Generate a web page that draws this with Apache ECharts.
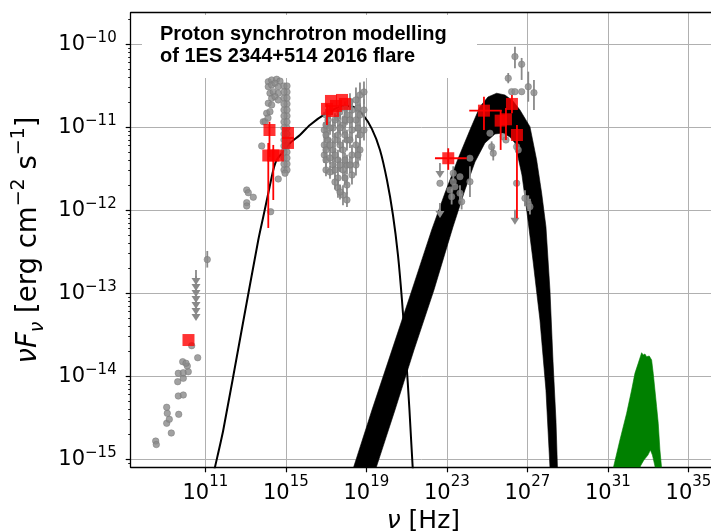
<!DOCTYPE html>
<html>
<head>
<meta charset="utf-8">
<script src="https://cdn.jsdelivr.net/npm/echarts@6/dist/echarts.min.js"></script>
<style>html,body{margin:0;padding:0;background:#fff}#c{width:711px;height:532px}</style>
</head>
<body>
<div id="c"></div>
<script>
// All numbers are log10 exponents: [log nu (Hz), log nuFnu (erg cm^-2 s^-1)]
const xTickExp = [11, 15, 19, 23, 27, 31, 35];
const yTickExp = [-15, -14, -13, -12, -11, -10];

// Archival (grey) data: [logNu, logF, (logF low, logF high)]
const archRadio = [
  [8.532,-14.780],[8.562,-14.822],[9.307,-14.683],[9.078,-14.566],[9.208,-14.518],[9.108,-14.446],
  [9.078,-14.373],[9.675,-14.458],[9.655,-14.237],[9.903,-14.225],[9.625,-14.065],[9.903,-14.024],
  [9.655,-13.964],[9.903,-13.957],[10.151,-13.945],[10.102,-13.876],[9.873,-13.824],[10.037,-13.843],
  [10.618,-13.776],[10.320,-13.631],[11.095,-12.594,-12.69,-12.49]
];
const archOptical = [
  [13.053,-11.755],[13.132,-11.788],[13.380,-11.843],[13.053,-11.908],[13.053,-11.948],[13.798,-11.225],
  [13.877,-10.933],[14.622,-11.623],[14.245,-12.017],
  [14.126,-10.451],[14.294,-10.430],[14.543,-10.422],[14.707,-10.444],[14.126,-10.511],[14.294,-10.490],
  [14.458,-10.470],[14.622,-10.511],[14.210,-10.590],[14.374,-10.571],[14.622,-10.590],[14.294,-10.651],
  [14.458,-10.631],[14.622,-10.671],[14.126,-10.711],[14.294,-10.731],[14.046,-10.831],[14.210,-10.812],
  [13.962,-10.933],[14.111,-10.888],
  [14.905,-10.502],[15.055,-10.575],[14.905,-10.647],[15.055,-10.719],[14.905,-10.792],[15.055,-10.864],
  [14.905,-10.936],[15.055,-11.008],[14.905,-11.081],[15.055,-11.153],[14.905,-11.225],[15.055,-11.298],
  [14.905,-11.370],[15.055,-11.442],[14.905,-11.514],[15.055,-10.502],[14.905,-10.575],[15.055,-10.647],
  [14.905,-10.719],[15.055,-10.792],[14.905,-10.864],[15.055,-10.936],[14.905,-11.008],[15.055,-11.081],
  [14.905,-11.153],[15.055,-11.225],[14.905,-11.298],[15.055,-11.370],[14.905,-11.442],[15.055,-11.514],
  [14.960,-11.554]
];
const archXray = [
  [16.909,-11.033,-11.13,-10.94],[16.909,-11.213,-11.31,-11.12],[16.909,-11.334,-11.43,-11.24],
  [17.091,-10.912,-11.02,-10.80],[17.091,-11.153,-11.27,-11.04],
  [17.340,-11.008,-11.12,-10.90],[17.340,-11.273,-11.39,-11.16],[17.340,-11.454,-11.57,-11.34],
  [17.588,-10.888,-10.99,-10.78],[17.588,-11.093,-11.21,-10.98],[17.588,-11.394,-11.52,-11.27],
  [17.588,-11.611,-11.73,-11.49],[17.588,-11.731,-11.85,-11.62],
  [17.837,-10.972,-11.09,-10.86],[17.837,-11.273,-11.40,-11.15],[17.837,-11.514,-11.64,-11.39],
  [17.837,-11.816,-11.94,-11.70],
  [18.035,-10.852,-10.97,-10.73],[18.035,-11.153,-11.28,-11.03],[18.035,-11.454,-11.57,-11.33],
  [18.035,-11.695,-11.81,-11.58],[18.035,-11.876,-11.96,-11.78],
  [18.284,-10.792,-10.94,-10.65],[18.284,-11.033,-11.17,-10.90],[18.284,-11.334,-11.46,-11.21],
  [18.284,-11.575,-11.69,-11.46],
  [18.482,-10.671,-10.82,-10.52],[18.482,-10.912,-11.05,-10.78],[18.482,-11.213,-11.34,-11.09],
  [18.482,-11.454,-11.58,-11.33],
  [18.681,-10.611,-10.76,-10.46],[18.681,-10.852,-11.00,-10.71],[18.681,-11.093,-11.22,-10.97],
  [18.681,-11.273,-11.40,-11.15],
  [18.880,-10.575,-10.72,-10.45],[18.880,-10.792,-10.93,-10.66],[18.880,-11.033,-11.16,-10.91],
  [16.992,-10.852,-10.93,-10.78],[16.992,-10.972,-11.05,-10.90],[16.992,-11.093,-11.17,-11.02],
  [16.992,-11.273,-11.35,-11.20],[16.992,-11.394,-11.47,-11.32],[16.992,-11.514,-11.59,-11.44],
  [17.191,-10.816,-10.90,-10.74],[17.191,-11.008,-11.09,-10.93],[17.191,-11.213,-11.29,-11.13],
  [17.191,-11.370,-11.45,-11.29],[17.191,-11.539,-11.62,-11.46],
  [17.439,-10.912,-10.99,-10.83],[17.439,-11.153,-11.24,-11.07],[17.439,-11.334,-11.42,-11.25],
  [17.439,-11.514,-11.60,-11.43],[17.439,-11.660,-11.75,-11.57],
  [17.688,-10.816,-10.90,-10.73],[17.688,-11.008,-11.09,-10.92],[17.688,-11.213,-11.30,-11.13],
  [17.688,-11.454,-11.54,-11.37],[17.688,-11.780,-11.87,-11.69],
  [17.936,-10.767,-10.85,-10.69],[17.936,-10.912,-11.00,-10.83],[17.936,-11.093,-11.18,-11.01],
  [17.936,-11.394,-11.48,-11.31],[17.936,-11.611,-11.70,-11.52],
  [18.184,-10.695,-10.80,-10.59],[18.184,-10.912,-11.01,-10.81],[18.184,-11.153,-11.25,-11.05],
  [18.184,-11.454,-11.55,-11.35],
  [18.582,-10.767,-10.90,-10.63],[18.582,-11.008,-11.13,-10.89],[18.582,-11.334,-11.45,-11.22]
];
const archGamma = [
  [22.655,-11.675],[23.316,-11.655],[23.400,-11.716],[23.649,-11.595],[23.152,-11.755],
  [23.236,-11.836,-11.93,-11.74],[23.649,-11.795,-11.89,-11.70],[24.145,-11.655,-11.84,-11.47],
  [23.733,-11.896,-11.99,-11.80],[24.145,-11.373],[23.316,-11.554,-11.64,-11.47]
];
const archVHE = [
  [26.381,-10.149,-10.289,-10.029],[26.714,-10.241,-10.430,-10.165],[26.048,-10.410,-10.470,-10.346],
  [26.217,-10.571],[26.381,-10.571],[26.714,-10.571],[27.042,-10.511,-10.692,-10.330],
  [27.325,-10.583,-10.792,-10.430],[25.139,-11.072],[25.223,-11.234,-11.30,-11.17],
  [25.303,-11.313,-11.40,-11.23],[25.800,-11.113],[25.934,-11.153],[26.465,-11.234,-11.31,-11.16],
  [26.545,-11.273],[26.465,-11.675],[26.878,-11.855,-11.95,-11.76],[27.042,-11.916,-12.01,-11.82],
  [27.126,-11.957,-12.05,-11.86]
];
// Archival upper limits [logNu, logF]
const archLimits = [
  [10.534,-12.719],[10.534,-12.792],[10.534,-12.864],[10.534,-12.936],[10.534,-13.008],
  [10.534,-13.081],[10.534,-13.153],[22.655,-11.430],[22.655,-11.912],[26.381,-11.995]
];

// 2016 flare (red) data: [logNu, logF, logF low, logF high, logNu low, logNu high]
const flareLowE = [
  [10.161,-13.563,null,null,null,null],
  [14.185,-11.033,-11.358,-10.933,null,null],
  [14.126,-11.340,-12.213,-11.189,null,null],
  [14.374,-11.340,-11.876,-11.213,null,null],
  [14.607,-11.340,null,null,null,null],
  [15.104,-11.069,null,null,null,null],
  [15.104,-11.189,null,null,null,null]
];
const flareXray = [
  [17.042,-10.779,-10.972,-10.72,null,null],
  [17.240,-10.683,null,null,null,null],
  [17.489,-10.743,null,null,null,null],
  [17.340,-10.804,null,null,null,null],
  [17.787,-10.671,null,null,null,null],
  [17.936,-10.719,null,null,null,null]
];
const flareGammaVHE = [
  [23.068,-11.373,-11.513,-11.253,22.407,23.982],
  [24.841,-10.800,-11.033,-10.631,24.111,25.720],
  [25.671,-10.920,-11.273,-10.792,null,null],
  [25.934,-10.904,-11.153,-10.767,null,null],
  [26.232,-10.719,-10.831,-10.611,null,null],
  [26.480,-11.093,-12.096,-10.972,null,null]
];

// Thin black model curve
const modelThin = [
  [11.329,-15.249],[11.478,-15.093],[11.890,-14.647],[12.804,-13.442],[13.629,-12.358],[13.877,-12.077],
  [14.126,-11.795],[14.374,-11.514],[14.543,-11.394],[14.871,-11.294],[15.204,-11.193],[15.700,-11.093],
  [16.197,-10.972],[17.027,-10.831],[17.837,-10.743],[18.333,-10.752],[18.830,-10.852],[19.272,-11.020],
  [19.675,-11.273],[20.022,-11.635],[20.320,-12.057],[20.569,-12.539],[20.767,-13.081],[20.966,-13.743],
  [21.140,-14.406],[21.299,-15.093],[21.364,-15.249]
];
// Thick black band: upper envelope (left->right) and lower envelope (right->left)
const bandUpper = [
  [18.135,-15.249],[18.368,-15.093],[19.277,-14.406],[20.271,-13.683],[21.264,-12.960],[22.243,-12.237],
  [22.904,-11.792],[23.564,-11.373],[24.145,-11.033],[24.642,-10.752],[25.040,-10.635],[25.472,-10.590],
  [25.884,-10.611],[26.282,-10.683],[26.629,-10.792],[26.927,-10.912],[27.126,-10.993],[27.459,-11.394],
  [27.707,-11.792],[27.921,-12.198],[28.120,-12.960],[28.269,-13.804],[28.418,-14.527],[28.492,-15.093],
  [28.517,-15.249]
];
const bandLower = [
  [28.169,-15.249],[28.120,-15.093],[27.921,-14.165],[27.623,-13.322],[27.275,-12.599],[26.977,-12.020],
  [26.729,-11.575],[26.381,-11.189],[26.133,-11.117],[25.785,-11.069],[25.387,-11.081],[24.891,-11.189],
  [24.394,-11.418],[23.897,-11.755],[23.301,-12.201],[22.357,-12.960],[21.364,-13.683],[20.420,-14.406],
  [19.496,-15.093],[19.277,-15.249]
];
// Green band (upper envelope left->right, lower envelope right->left)
const greenUpper = [
  [31.150,-15.370],[31.264,-15.108],[31.597,-14.767],[31.930,-14.446],[32.178,-14.165],[32.342,-13.964],
  [32.506,-13.843],[32.675,-13.716],[32.754,-13.743],[32.839,-13.731],[32.923,-13.764],[33.052,-13.755],
  [33.122,-13.783],[33.172,-13.804],[33.251,-13.964],[33.336,-14.165],[33.420,-14.366],[33.500,-14.566],
  [33.584,-14.888],[33.669,-15.108],[33.708,-15.370]
];
const greenLower = [
  [33.385,-15.370],[33.336,-15.081],[33.211,-14.949],[33.112,-14.888],[32.988,-14.949],[32.789,-15.008],
  [32.615,-15.081],[32.566,-15.370]
];

const X_MIN = 7.29, X_MAX = 36.37, Y_MIN = -15.096, Y_MAX = -9.62;
const GRAY = '#8a8a8a', RED = '#ff0000';
const FONT = 'DejaVu Sans';

const yMinorTicks = [];
for (let n = -16; n <= -10; n++) for (let k = 2; k <= 9; k++) {
  const v = n + Math.log10(k);
  if (v > Y_MIN && v < Y_MAX) yMinorTicks.push(v);
}

const grayAll = [].concat(archRadio, archOptical, archXray, archGamma, archVHE);
const redAll = [].concat(flareLowE, flareXray, flareGammaVHE);
const vbars = list => list.filter(p => p.length >= 4 && p[2] != null).map(p => [p[0], p[2], p[3]]);
const hbars = list => list.filter(p => p.length >= 6 && p[4] != null).map(p => [p[4], p[1], p[5]]);

function vbarRender(color, lw) {
  return (params, api) => {
    const a = api.coord([api.value(0), api.value(1)]);
    const b = api.coord([api.value(0), api.value(2)]);
    return {type: 'line', shape: {x1: a[0], y1: a[1], x2: b[0], y2: b[1]}, style: {stroke: color, lineWidth: lw}};
  };
}
function hbarRender(color, lw) {
  return (params, api) => {
    const a = api.coord([api.value(0), api.value(1)]);
    const b = api.coord([api.value(2), api.value(1)]);
    return {type: 'line', shape: {x1: a[0], y1: a[1], x2: b[0], y2: b[1]}, style: {stroke: color, lineWidth: lw}};
  };
}
function limitRender(params, api) {
  const p = api.coord([api.value(0), api.value(1)]);
  return {type: 'group', children: [
    {type: 'line', shape: {x1: p[0], y1: p[1], x2: p[0], y2: p[1] + 9}, style: {stroke: GRAY, lineWidth: 1.8}},
    {type: 'polygon', shape: {points: [[p[0] - 4.5, p[1] + 8], [p[0] + 4.5, p[1] + 8], [p[0], p[1] + 15]]}, style: {fill: GRAY}}
  ]};
}
function polyRender(points, color) {
  return (params, api) => {
    if (params.dataIndex !== 0) return null;
    const cs = params.coordSys;
    return {
      type: 'polygon',
      shape: {points: points.map(p => api.coord(p))},
      style: {fill: color, stroke: color, lineWidth: 0.6},
      clipPath: {type: 'rect', shape: {x: cs.x, y: cs.y, width: cs.width, height: cs.height}}
    };
  };
}
const bandPoly = bandUpper.concat(bandLower);
const greenPoly = greenUpper.concat(greenLower);

const tickRich = {
  b: {fontFamily: FONT, fontSize: 21, color: '#000', verticalAlign: 'bottom', lineHeight: 30},
  s: {fontFamily: FONT, fontSize: 15, color: '#000', verticalAlign: 'top', lineHeight: 30}
};
const yTickRich = {
  b: {fontFamily: FONT, fontSize: 21, color: '#000', verticalAlign: 'middle', lineHeight: 28},
  s: {fontFamily: FONT, fontSize: 15, color: '#000', verticalAlign: 'top', lineHeight: 28}
};
const titleRich = {
  i: {fontFamily: FONT, fontSize: 27.5, fontStyle: 'italic', color: '#000', verticalAlign: 'middle', lineHeight: 38},
  r: {fontFamily: FONT, fontSize: 27.5, color: '#000', verticalAlign: 'middle', lineHeight: 38},
  sub: {fontFamily: FONT, fontSize: 19, fontStyle: 'italic', color: '#000', verticalAlign: 'bottom', lineHeight: 38},
  sup: {fontFamily: FONT, fontSize: 19, color: '#000', verticalAlign: 'top', lineHeight: 38}
};
const xTitleRich = {
  i: {fontFamily: FONT, fontSize: 25, fontStyle: 'italic', color: '#000', verticalAlign: 'middle', lineHeight: 34},
  r: {fontFamily: FONT, fontSize: 25, color: '#000', verticalAlign: 'middle', lineHeight: 34}
};

const chart = echarts.init(document.getElementById('c'), null, {renderer: 'canvas', devicePixelRatio: 1});
chart.setOption({
  animation: false,
  backgroundColor: '#fff',
  grid: {left: 130.7, top: 12.7, right: -5, bottom: 64.7, containLabel: false, outerBoundsMode: 'none'},
  xAxis: [{
    type: 'value', min: X_MIN, max: X_MAX, position: 'bottom',
    axisLine: {show: true, onZero: false, lineStyle: {color: '#000', width: 1.3}},
    axisTick: {show: true, inside: false, length: 5, customValues: xTickExp, lineStyle: {color: '#000', width: 1.2}},
    axisLabel: {customValues: xTickExp, margin: 7, formatter: v => '{b|10}{s|' + Math.round(v) + '}', rich: tickRich},
    splitLine: {show: true, lineStyle: {color: '#b0b0b0', width: 1}},
    name: '{i|ν}{r| [Hz]}', nameLocation: 'middle', nameGap: 35, nameTextStyle: {rich: xTitleRich}
  }, {
    type: 'value', min: X_MIN, max: X_MAX, position: 'top',
    axisLine: {show: true, onZero: false, lineStyle: {color: '#000', width: 1.3}},
    axisTick: {show: false}, axisLabel: {show: false}, splitLine: {show: false}
  }],
  yAxis: [{
    type: 'value', min: Y_MIN, max: Y_MAX, position: 'left',
    axisLine: {show: true, onZero: false, lineStyle: {color: '#000', width: 1.3}},
    axisTick: {show: true, inside: false, length: 5, customValues: yTickExp, lineStyle: {color: '#000', width: 1.2}},
    axisLabel: {customValues: yTickExp, margin: 14, formatter: v => '{b|10}{s|−' + Math.round(-v) + '}', rich: yTickRich},
    splitLine: {show: true, lineStyle: {color: '#b0b0b0', width: 1}},
    name: '{i|ν}{i|F}{sub|ν}{r| [erg cm}{sup|−2}{r| s}{sup|−1}{r|]}',
    nameLocation: 'middle', nameRotate: 90, nameGap: 83, nameTextStyle: {rich: titleRich}
  }, {
    type: 'value', min: Y_MIN, max: Y_MAX, position: 'left',
    axisLine: {show: false},
    axisTick: {show: true, inside: false, length: 2.5, customValues: yMinorTicks, lineStyle: {color: '#000', width: 0.9}},
    axisLabel: {show: false}, splitLine: {show: false}
  }],
  graphic: [
    {type: 'rect', left: 142, top: 15, shape: {width: 335, height: 63}, style: {fill: '#fff'}, z: 1, silent: true},
    {type: 'text', left: 160, top: 24, z: 20, silent: true,
     style: {text: 'Proton synchrotron modelling\nof 1ES 2344+514 2016 flare', fontFamily: 'Liberation Sans',
             fontWeight: 'bold', fontSize: 20, lineHeight: 21.5, fill: '#000'}}
  ],
  series: [
    {type: 'custom', name: 'green', renderItem: polyRender(greenPoly, '#008000'), data: greenPoly, z: 2, silent: true},
    {type: 'custom', name: 'band', renderItem: polyRender(bandPoly, '#000000'), data: bandPoly, z: 2, silent: true},
    {type: 'line', name: 'model', data: modelThin, showSymbol: false, smooth: 0.25,
     lineStyle: {color: '#000', width: 2}, z: 3, silent: true},
    {type: 'custom', name: 'grayV', renderItem: vbarRender(GRAY, 1.8), data: vbars(grayAll), z: 4, silent: true},
    {type: 'custom', name: 'grayUL', renderItem: limitRender, data: archLimits, z: 4, silent: true},
    {type: 'scatter', name: 'gray', data: grayAll.map(p => [p[0], p[1]]), symbol: 'circle', symbolSize: 6.5,
     itemStyle: {color: GRAY, borderColor: '#777', borderWidth: 0.6}, z: 5, silent: true},
    {type: 'custom', name: 'redV', renderItem: vbarRender(RED, 1.8), data: vbars(redAll), z: 7, silent: true},
    {type: 'custom', name: 'redH', renderItem: hbarRender(RED, 1.8), data: hbars(redAll), z: 7, silent: true},
    {type: 'scatter', name: 'red', data: redAll.map(p => [p[0], p[1]]), symbol: 'rect', symbolSize: 12,
     itemStyle: {color: RED}, z: 8, silent: true}
  ]
});
</script>
</body>
</html>
